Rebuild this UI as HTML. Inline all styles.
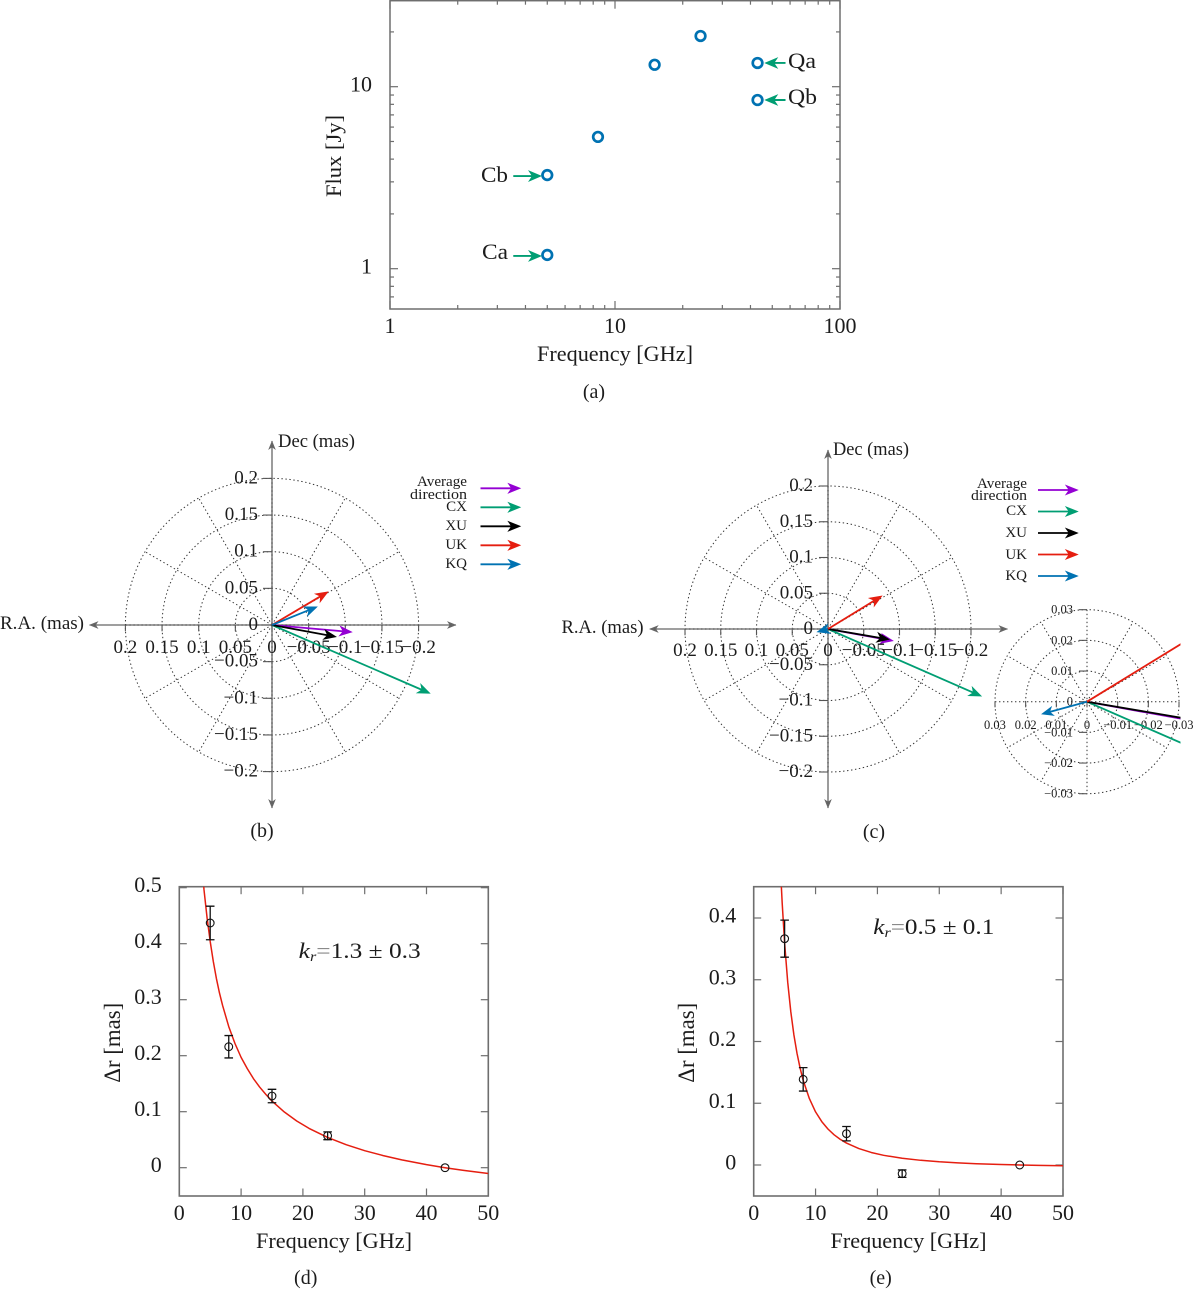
<!DOCTYPE html>
<html lang="en">
<head>
<meta charset="utf-8">
<title>Flux spectrum and core shift figure</title>
<style>
html,body{margin:0;padding:0;background:#fff;}
svg{display:block;font-family:"Liberation Serif","DejaVu Serif",serif;}
text{fill:#1c1c1c;}
.lab{font-size:22px;}
.ylab{font-size:23.5px;}
.pol{font-size:19px;}
.leg{font-size:15px;}
.ins{font-size:12.5px;}
.cap{font-size:20px;}
</style>
</head>
<body>
<svg id="figure" xmlns="http://www.w3.org/2000/svg" width="1200" height="1295" viewBox="0 0 1200 1295">
  <defs>
    <clipPath id="clip-d"><rect x="179.3" y="886.7" width="309" height="309.3"/></clipPath>
    <clipPath id="clip-e"><rect x="753.7" y="886.7" width="309.3" height="309.3"/></clipPath>
    <clipPath id="clip-inset"><rect x="990" y="600" width="190.5" height="200"/></clipPath>
  </defs>

  <g id="panel-a">
    <text class="lab" x="615" y="361" text-anchor="middle" textLength="156" lengthAdjust="spacingAndGlyphs">Frequency [GHz]</text>
    <text class="lab" x="341" y="156" text-anchor="middle" textLength="82" lengthAdjust="spacingAndGlyphs" transform="rotate(-90 341 156)">Flux [Jy]</text>
    <text class="lab" x="788" y="68" textLength="28" lengthAdjust="spacingAndGlyphs">Qa</text>
    <text class="lab" x="788" y="104" textLength="29" lengthAdjust="spacingAndGlyphs">Qb</text>
    <text class="lab" x="481" y="182" textLength="27" lengthAdjust="spacingAndGlyphs">Cb</text>
    <text class="lab" x="482" y="259" textLength="26" lengthAdjust="spacingAndGlyphs">Ca</text>
    <text class="cap" x="594" y="398" text-anchor="middle">(a)</text>
  </g>

  <g id="panel-b">
    <text class="pol" x="278" y="447" textLength="77" lengthAdjust="spacingAndGlyphs">Dec (mas)</text>
    <text class="pol" x="0" y="629" textLength="84" lengthAdjust="spacingAndGlyphs">R.A. (mas)</text>
    <text class="leg" x="467" y="486" text-anchor="end" textLength="50" lengthAdjust="spacingAndGlyphs">Average</text>
    <text class="leg" x="467" y="499" text-anchor="end" textLength="57" lengthAdjust="spacingAndGlyphs">direction</text>
    <text class="leg" x="467" y="511" text-anchor="end">CX</text>
    <text class="leg" x="467" y="530" text-anchor="end">XU</text>
    <text class="leg" x="467" y="549" text-anchor="end">UK</text>
    <text class="leg" x="467" y="568" text-anchor="end">KQ</text>
    <text class="cap" x="262" y="837" text-anchor="middle">(b)</text>
  </g>

  <g id="panel-c">
    <text class="pol" x="833" y="455" textLength="76" lengthAdjust="spacingAndGlyphs">Dec (mas)</text>
    <text class="pol" x="561.5" y="633" textLength="82" lengthAdjust="spacingAndGlyphs">R.A. (mas)</text>
    <text class="leg" x="1027" y="488" text-anchor="end" textLength="50" lengthAdjust="spacingAndGlyphs">Average</text>
    <text class="leg" x="1027" y="500" text-anchor="end" textLength="56" lengthAdjust="spacingAndGlyphs">direction</text>
    <text class="leg" x="1027" y="515" text-anchor="end">CX</text>
    <text class="leg" x="1027" y="537" text-anchor="end">XU</text>
    <text class="leg" x="1027" y="559" text-anchor="end">UK</text>
    <text class="leg" x="1027" y="580" text-anchor="end">KQ</text>
    <text class="cap" x="874" y="838" text-anchor="middle">(c)</text>
  </g>

  <g id="panel-inset"></g>

  <g id="panel-d">
    <text class="lab" x="334" y="1248" text-anchor="middle" textLength="156" lengthAdjust="spacingAndGlyphs">Frequency [GHz]</text>
    <text class="ylab" x="120" y="1042.7" text-anchor="middle" textLength="80" lengthAdjust="spacingAndGlyphs" transform="rotate(-90 120 1042.7)">Δr [mas]</text>
    <text class="lab" x="298.7" y="958" textLength="122" lengthAdjust="spacingAndGlyphs"><tspan font-style="italic">k</tspan><tspan font-style="italic" font-size="14" dy="3">r</tspan><tspan dy="-3" style="fill:#8a8a8a">=</tspan>1.3 ± 0.3</text>
    <text class="cap" x="305.7" y="1284" text-anchor="middle">(d)</text>
  </g>

  <g id="panel-e">
    <text class="lab" x="908.5" y="1248" text-anchor="middle" textLength="156" lengthAdjust="spacingAndGlyphs">Frequency [GHz]</text>
    <text class="ylab" x="694" y="1042.7" text-anchor="middle" textLength="80" lengthAdjust="spacingAndGlyphs" transform="rotate(-90 694 1042.7)">Δr [mas]</text>
    <text class="lab" x="873.3" y="934" textLength="121" lengthAdjust="spacingAndGlyphs"><tspan font-style="italic">k</tspan><tspan font-style="italic" font-size="14" dy="3">r</tspan><tspan dy="-3" style="fill:#8a8a8a">=</tspan>0.5 ± 0.1</text>
    <text class="cap" x="880.7" y="1284" text-anchor="middle">(e)</text>
  </g>
</svg>

<script>
/* ---------- panel (a) data ---------- */
const fluxFreq = [5, 5, 8.4, 15, 24, 43, 43];
const fluxValue = [1.19, 3.27, 5.3, 13.2, 19, 13.5, 8.45];
const fluxXMajor = [1, 10, 100];
const fluxXMajorLabels = ['1', '10', '100'];
const fluxXMinor = [2, 3, 4, 5, 6, 7, 8, 9, 20, 30, 40, 50, 60, 70, 80, 90];
const fluxYMajor = [1, 10];
const fluxYMajorLabels = ['1', '10'];
const fluxYMinor = [0.7, 0.8, 0.9, 2, 3, 4, 5, 6, 7, 8, 9, 20];
const fluxAnnotatedIndex = [0, 1, 5, 6];

/* ---------- polar panels data ---------- */
const seriesNames = ['average', 'cx', 'xu', 'uk', 'kq'];
const panelBRA = [-0.1085, -0.215, -0.087, -0.076, -0.061];
const panelBDec = [-0.0096, -0.093, -0.016, 0.045, 0.0246];
const panelCRA = [-0.0905, -0.214, -0.085, -0.075, 0.0146];
const panelCDec = [-0.0164, -0.0937, -0.0145, 0.046, -0.004];
const polarRings = [0.05, 0.1, 0.15, 0.2];
const polarYTicks = [0.2, 0.15, 0.1, 0.05, 0, -0.05, -0.1, -0.15, -0.2];
const polarYLabels = ['0.2', '0.15', '0.1', '0.05', '0', '\u22120.05', '\u22120.1', '\u22120.15', '\u22120.2'];
const polarXTicks = [0.2, 0.15, 0.1, 0.05, 0, -0.05, -0.1, -0.15, -0.2];
const polarXLabels = ['0.2', '0.15', '0.1', '0.05', '0', '\u22120.05', '\u22120.1', '\u22120.15', '\u22120.2'];
const insetRings = [0.01, 0.02, 0.03];
const insetYTicks = [0.03, 0.02, 0.01, 0, -0.01, -0.02, -0.03];
const insetYLabels = ['0.03', '0.02', '0.01', '0', '\u22120.01', '\u22120.02', '\u22120.03'];
const insetXTicks = [0.03, 0.02, 0.01, 0, -0.01, -0.02, -0.03];
const insetXLabels = ['0.03', '0.02', '0.01', '0', '\u22120.01', '\u22120.02', '\u22120.03'];

/* ---------- panels (d) and (e) data ---------- */
const shiftFreq = [5, 8, 15, 24, 43];
const shiftDValue = [0.437, 0.216, 0.128, 0.057, 0];
const shiftDError = [0.03, 0.02, 0.012, 0.007, 0];
const shiftEValue = [0.3665, 0.1387, 0.0507, -0.014, 0];
const shiftEError = [0.03, 0.019, 0.0116, 0.006, 0];
const fitDFreq = [3.9, 4, 4.5, 5, 5.5, 6, 6.5, 7, 8, 9, 10, 11, 12, 13, 14, 15, 17, 19, 21, 24, 27, 30, 33, 36, 40, 43, 46, 50];
const fitDValue = [0.51, 0.496, 0.4457, 0.404, 0.3684, 0.338, 0.312, 0.29, 0.252, 0.222, 0.197, 0.177, 0.159, 0.144, 0.131, 0.119, 0.0994, 0.0834, 0.0702, 0.054, 0.0411, 0.0304, 0.0216, 0.014, 0.0055, 0, -0.0048, -0.0103];
const fitEFreq = [4.45, 4.6, 5, 5.5, 6, 6.5, 7, 7.5, 8, 9, 10, 11, 12, 13, 14, 15, 17, 19, 21, 24, 27, 30, 33, 36, 40, 43, 46, 50];
const fitEValue = [0.455, 0.425, 0.359, 0.296, 0.248, 0.2105, 0.181, 0.157, 0.137, 0.1075, 0.086, 0.0703, 0.0583, 0.0489, 0.0415, 0.0355, 0.0266, 0.0203, 0.0157, 0.0109, 0.0076, 0.0052, 0.0035, 0.0021, 0.0008, 0, -0.0006, -0.0013];
const shiftXTicks = [0, 10, 20, 30, 40, 50];
const shiftXLabels = ['0', '10', '20', '30', '40', '50'];
const shiftDYTicks = [0, 0.1, 0.2, 0.3, 0.4, 0.5];
const shiftDYLabels = ['0', '0.1', '0.2', '0.3', '0.4', '0.5'];
const shiftEYTicks = [0, 0.1, 0.2, 0.3, 0.4];
const shiftEYLabels = ['0', '0.1', '0.2', '0.3', '0.4'];

/* ---------- style ---------- */
const SERIES_COLORS = {average: '#9400d3', cx: '#009e73', xu: '#000000', uk: '#e51e10', kq: '#0072b2'};
const GREEN = '#009e73';
const BLUE = '#0072b2';
const RED = '#e51e10';
const FRAME = '#6e6e6e';
const NS = 'http://www.w3.org/2000/svg';

function mk(parent, tag, attrs, txt) {
  const n = document.createElementNS(NS, tag);
  for (const k in attrs) n.setAttribute(k, attrs[k]);
  if (txt !== undefined) n.textContent = txt;
  parent.appendChild(n);
  return n;
}
function arrowPath(x0, y0, x1, y1, len, half) {
  const d = Math.hypot(x1 - x0, y1 - y0) || 1;
  const ux = (x1 - x0) / d, uy = (y1 - y0) / d;
  const px = -uy, py = ux;
  const tx = x1 - ux * 1.2, ty = y1 - uy * 1.2;
  const bx = tx - ux * len, by = ty - uy * len;
  const nx = tx - ux * len * 0.72, ny = ty - uy * len * 0.72;
  return 'M' + x0 + ' ' + y0 + 'L' + nx + ' ' + ny +
    'M' + tx + ' ' + ty + 'L' + (bx + px * half) + ' ' + (by + py * half) +
    'L' + nx + ' ' + ny + 'L' + (bx - px * half) + ' ' + (by - py * half) + 'Z';
}

/* ---------- panel (a) ---------- */
(function () {
  const g = document.getElementById('panel-a');
  const L = 390, R = 840, T = 0.7, B = 309;
  const ax = v => L + 225 * Math.log10(v);
  const ay = v => 268.7 - 182 * Math.log10(v);
  const frame = mk(g, 'rect', {x: L, y: T, width: R - L, height: B - T, fill: 'none', stroke: FRAME, 'stroke-width': 1.5});
  
  
  function tick(x1, y1, x2, y2, name) {
    const t = mk(g, 'line', {x1: x1, y1: y1, x2: x2, y2: y2, stroke: FRAME, 'stroke-width': 1.2});
    
    
  }
  fluxXMajor.forEach((v, i) => {
    tick(ax(v), B, ax(v), B - 8, 'x-major-tick');
    tick(ax(v), T, ax(v), T + 8, 'x-major-tick-top');
    const t = mk(g, 'text', {class: 'lab', x: ax(v), y: 333, 'text-anchor': 'middle'}, fluxXMajorLabels[i]);
    
    
  });
  fluxXMinor.forEach(v => {
    tick(ax(v), B, ax(v), B - 4, 'x-minor-tick');
    tick(ax(v), T, ax(v), T + 4, 'x-minor-tick-top');
  });
  fluxYMajor.forEach((v, i) => {
    tick(L, ay(v), L + 8, ay(v), 'y-major-tick');
    tick(R, ay(v), R - 8, ay(v), 'y-major-tick-right');
    const t = mk(g, 'text', {class: 'lab', x: 372, y: ay(v) + 5, 'text-anchor': 'end'}, fluxYMajorLabels[i]);
    
    
  });
  fluxYMinor.forEach(v => {
    tick(L, ay(v), L + 4, ay(v), 'y-minor-tick');
    tick(R, ay(v), R - 4, ay(v), 'y-minor-tick-right');
  });
  fluxFreq.forEach((f, i) => {
    const c = mk(g, 'circle', {cx: ax(f), cy: ay(fluxValue[i]), r: 4.8, fill: 'none', stroke: BLUE, 'stroke-width': 2.7});
    
    
  });
  fluxAnnotatedIndex.forEach(i => {
    const px = ax(fluxFreq[i]), py = ay(fluxValue[i]);
    const dir = fluxFreq[i] < 10 ? -1 : 1;
    const a = mk(g, 'path', {d: arrowPath(px + dir * (dir < 0 ? 34 : 28), py + (dir < 0 ? 1 : 0), px + dir * (dir < 0 ? 6.5 : 8), py + (dir < 0 ? 1 : 0), 9, 3.8), fill: GREEN, stroke: GREEN, 'stroke-width': 1.9});
    
    
  });
})();

/* ---------- polar panels ---------- */
function drawPolar(g, o) {
  const px = ra => o.cx - ra * o.scale;
  const py = dec => o.cy - dec * o.scale;
  const rMax = o.rings[o.rings.length - 1];
  o.rings.forEach(r => {
    const c = mk(g, 'circle', {cx: o.cx, cy: o.cy, r: r * o.scale, fill: 'none', stroke: '#333', 'stroke-width': 1, 'stroke-dasharray': '1.4 2.6'});
    
    
  });
  for (let deg = 30; deg < 360; deg += 30) {
    if (deg % 90 === 0) continue;
    const rad = deg * Math.PI / 180;
    const s = mk(g, 'line', {x1: o.cx, y1: o.cy, x2: o.cx + Math.cos(rad) * rMax * o.scale, y2: o.cy - Math.sin(rad) * rMax * o.scale, stroke: '#333', 'stroke-width': 1, 'stroke-dasharray': '1.4 2.6'});
    
    
  }
  if (o.axisArrows) {
    const h = mk(g, 'path', {d: arrowPath(o.right, o.cy, o.left, o.cy, 6, 2.4) + arrowPath(o.left, o.cy, o.right, o.cy, 6, 2.4), fill: '#222', stroke: '#666', 'stroke-width': 1.3});
    
    
    const v = mk(g, 'path', {d: arrowPath(o.cx, o.bottom, o.cx, o.top, 6, 2.4) + arrowPath(o.cx, o.top, o.cx, o.bottom, 6, 2.4), fill: '#222', stroke: '#666', 'stroke-width': 1.3});
    
    
  }
  const hd = mk(g, 'line', {x1: o.cx - rMax * o.scale, y1: o.cy, x2: o.cx + rMax * o.scale, y2: o.cy, stroke: '#333', 'stroke-width': 1, 'stroke-dasharray': '1.4 2.6'});
  
  
  const vd = mk(g, 'line', {x1: o.cx, y1: o.cy - rMax * o.scale, x2: o.cx, y2: o.cy + rMax * o.scale, stroke: '#333', 'stroke-width': 1, 'stroke-dasharray': '1.4 2.6'});
  
  

  o.yTicks.forEach((v, i) => {
    const tk = mk(g, 'line', {x1: o.cx - o.tickLen, y1: py(v), x2: o.cx, y2: py(v), stroke: '#555', 'stroke-width': 1.1});
    
    
    const t = mk(g, 'text', {class: o.textClass, x: o.yLabelX, y: py(v) + o.yLabelDy, 'text-anchor': 'end'}, o.yLabels[i]);
    
    
  });
  o.xTicks.forEach((v, i) => {
    const tk = mk(g, 'line', {x1: px(v), y1: o.cy, x2: px(v), y2: o.cy + o.tickLen * 0.7, stroke: '#555', 'stroke-width': 1.1});
    
    
    const t = mk(g, 'text', {class: o.textClass, x: px(v), y: o.xLabelY, 'text-anchor': 'middle'}, o.xLabels[i]);
    
    
  });

  const holder = mk(g, 'g', o.clip ? {'clip-path': 'url(#' + o.clip + ')'} : {});
  
  
  seriesNames.forEach((name, i) => {
    const col = SERIES_COLORS[name];
    const a = mk(holder, 'path', {d: arrowPath(o.cx, o.cy, px(o.ra[i]), py(o.dec[i]), o.headLen, o.headHalf), fill: col, stroke: col, 'stroke-width': o.vecWidth});
    
    
  });

  if (o.legendX !== undefined) {
    seriesNames.forEach((name, i) => {
      const col = SERIES_COLORS[name];
      const y = o.legendY + i * o.legendStep;
      const a = mk(g, 'path', {d: arrowPath(o.legendX, y, o.legendX + 39.5, y, 9, 3.6), fill: col, stroke: col, 'stroke-width': 1.8});
      
      
    });
  }
}

drawPolar(document.getElementById('panel-b'), {
  cx: 272, cy: 625, scale: 733, rings: polarRings,
  left: 89.5, right: 456, top: 441, bottom: 808, axisArrows: true,
  yTicks: polarYTicks, yLabels: polarYLabels, xTicks: polarXTicks, xLabels: polarXLabels,
  ra: panelBRA, dec: panelBDec, tickLen: 9, textClass: 'pol',
  yLabelX: 258, yLabelDy: 5, xLabelY: 653, headLen: 9, headHalf: 3.6, vecWidth: 1.8,
  legendX: 480.5, legendY: 488.3, legendStep: 19
});
drawPolar(document.getElementById('panel-c'), {
  cx: 828, cy: 629, scale: 715, rings: polarRings,
  left: 649.7, right: 1007.5, top: 450, bottom: 808, axisArrows: true,
  yTicks: polarYTicks, yLabels: polarYLabels, xTicks: polarXTicks, xLabels: polarXLabels,
  ra: panelCRA, dec: panelCDec, tickLen: 9, textClass: 'pol',
  yLabelX: 813, yLabelDy: 5, xLabelY: 656, headLen: 9, headHalf: 3.6, vecWidth: 1.8,
  legendX: 1038, legendY: 490, legendStep: 21.5
});
drawPolar(document.getElementById('panel-inset'), {
  cx: 1087, cy: 701.7, scale: 3067, rings: insetRings, axisArrows: false,
  yTicks: insetYTicks, yLabels: insetYLabels, xTicks: insetXTicks, xLabels: insetXLabels,
  ra: panelCRA, dec: panelCDec, tickLen: 8, textClass: 'ins',
  yLabelX: 1073, yLabelDy: 4, xLabelY: 729, headLen: 8, headHalf: 3.2, vecWidth: 1.8,
  clip: 'clip-inset'
});

/* ---------- panels (d), (e) ---------- */
function drawShift(g, o) {
  const px = v => o.L + (v / 50) * (o.R - o.L);
  const py = v => o.y0 - v * o.yScale;
  const frame = mk(g, 'rect', {x: o.L, y: o.T, width: o.R - o.L, height: o.B - o.T, fill: 'none', stroke: FRAME, 'stroke-width': 1.6});
  
  
  shiftXTicks.forEach((v, i) => {
    const a = mk(g, 'line', {x1: px(v), y1: o.B, x2: px(v), y2: o.B - 7.5, stroke: FRAME, 'stroke-width': 1.2});
    
    
    const b = mk(g, 'line', {x1: px(v), y1: o.T, x2: px(v), y2: o.T + 7.5, stroke: FRAME, 'stroke-width': 1.2});
    
    
    const t = mk(g, 'text', {class: 'lab', x: px(v), y: 1220, 'text-anchor': 'middle'}, shiftXLabels[i]);
    
    
  });
  o.yTicks.forEach((v, i) => {
    const a = mk(g, 'line', {x1: o.L, y1: py(v), x2: o.L + 7.5, y2: py(v), stroke: FRAME, 'stroke-width': 1.2});
    
    
    const b = mk(g, 'line', {x1: o.R, y1: py(v), x2: o.R - 7.5, y2: py(v), stroke: FRAME, 'stroke-width': 1.2});
    
    
    const t = mk(g, 'text', {class: 'lab', x: o.L - 17.5, y: py(v) + 4.5, 'text-anchor': 'end'}, o.yLabels[i]);
    
    
  });
  const pts = o.fitFreq.map((f, i) => (i ? 'L' : 'M') + px(f).toFixed(2) + ' ' + py(o.fitValue[i]).toFixed(2)).join('');
  const curve = mk(g, 'path', {d: pts, fill: 'none', stroke: RED, 'stroke-width': 1.5, 'stroke-linejoin': 'round', 'clip-path': 'url(#' + o.clip + ')'});
  
  
  shiftFreq.forEach((f, i) => {
    const x = px(f), y = py(o.value[i]), e = o.error[i];
    if (e > 0) {
      const top = py(o.value[i] + e), bot = py(o.value[i] - e);
      const bar = mk(g, 'path', {d: 'M' + x + ' ' + top + 'V' + bot + 'M' + (x - 4.3) + ' ' + top + 'H' + (x + 4.3) + 'M' + (x - 4.3) + ' ' + bot + 'H' + (x + 4.3), fill: 'none', stroke: '#111', 'stroke-width': 1.3});
      
      
    }
    const c = mk(g, 'circle', {cx: x, cy: y, r: 3.9, fill: 'none', stroke: '#111', 'stroke-width': 1.1});
    
    
  });
}
drawShift(document.getElementById('panel-d'), {
  L: 179.3, R: 488.3, T: 886.7, B: 1196, y0: 1167.7, yScale: 560,
  yTicks: shiftDYTicks, yLabels: shiftDYLabels,
  value: shiftDValue, error: shiftDError, fitFreq: fitDFreq, fitValue: fitDValue, clip: 'clip-d'
});
drawShift(document.getElementById('panel-e'), {
  L: 753.7, R: 1063, T: 886.7, B: 1196, y0: 1165, yScale: 617.5,
  yTicks: shiftEYTicks, yLabels: shiftEYLabels,
  value: shiftEValue, error: shiftEError, fitFreq: fitEFreq, fitValue: fitEValue, clip: 'clip-e'
});
</script>
</body>
</html>
